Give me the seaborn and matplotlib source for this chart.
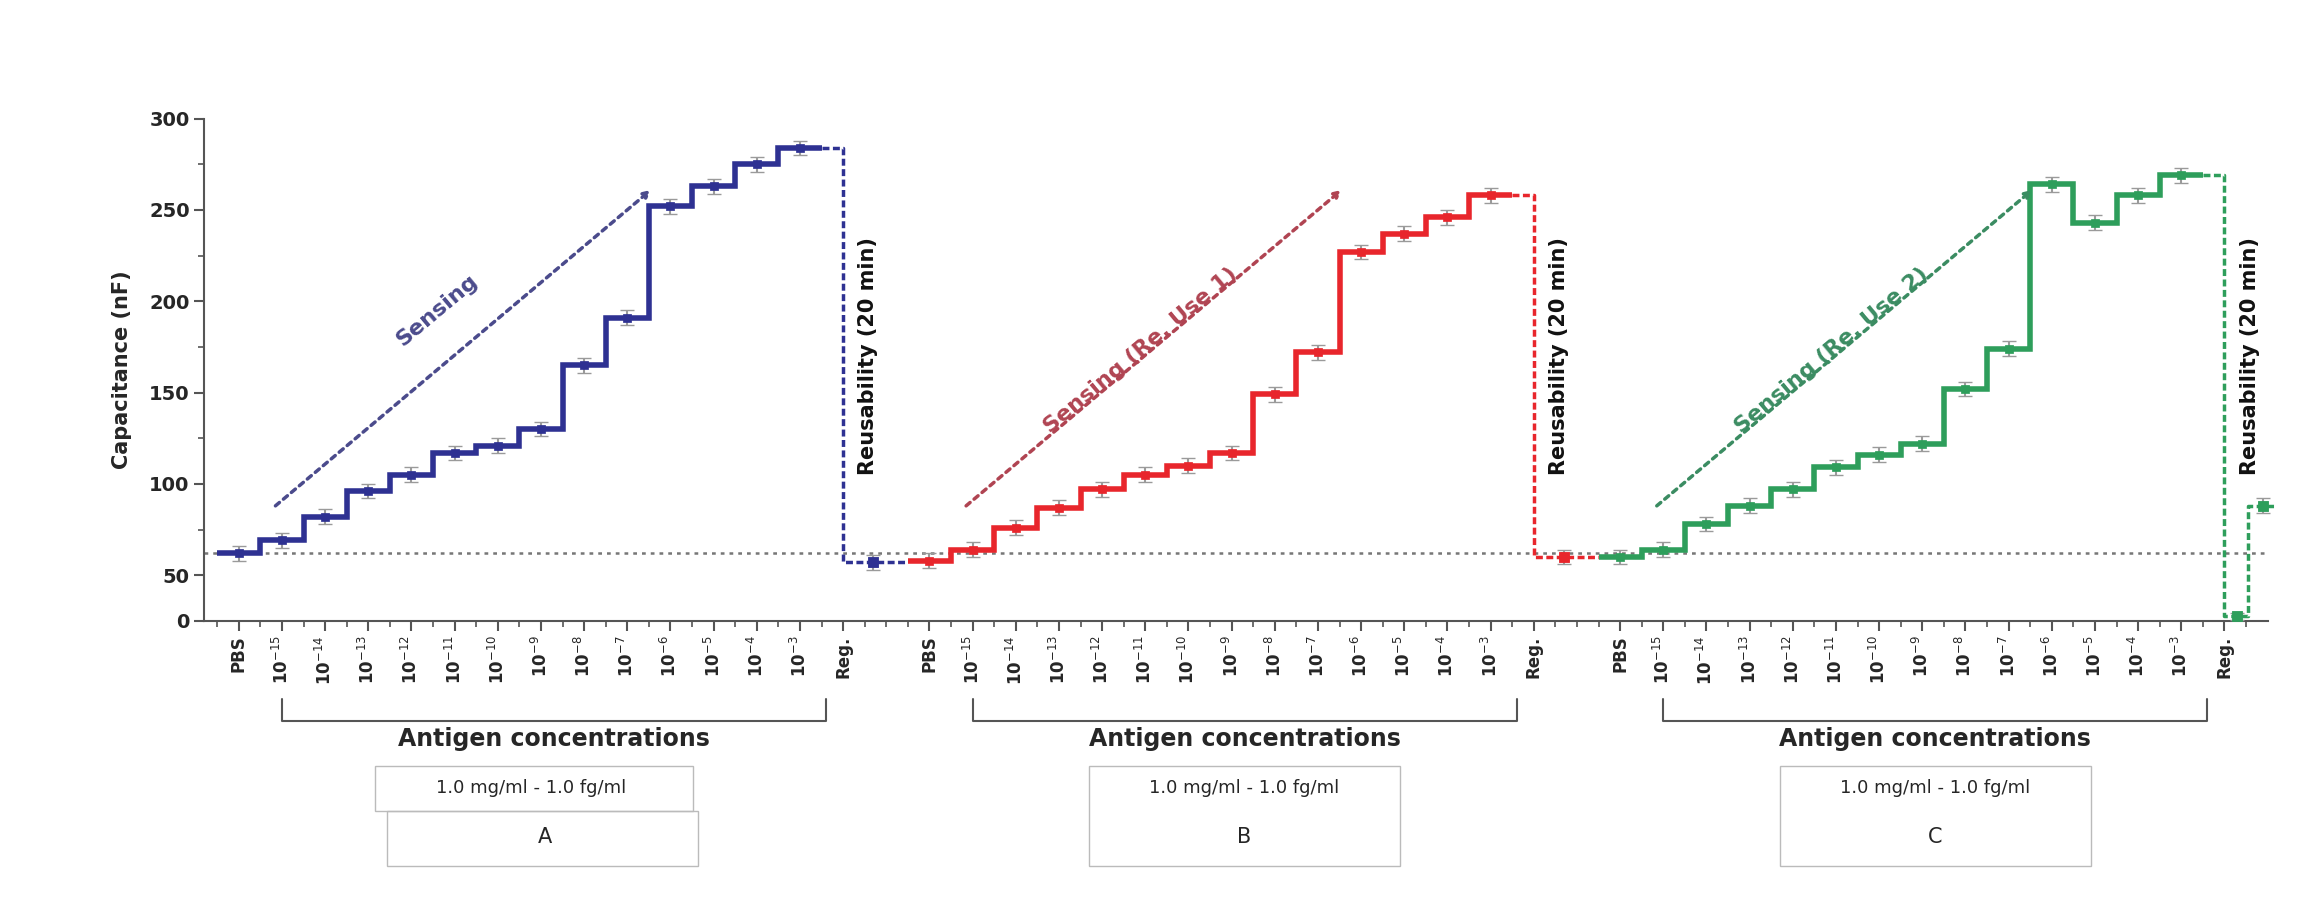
import numpy as np
import matplotlib
matplotlib.use('Agg')
import matplotlib.pyplot as plt
import seaborn as sns
from matplotlib.patches import Rectangle

# tick labels for one sensing run
tick_labels = ['PBS'] + [f'10$^{{-{k}}}$' for k in range(15, 2, -1)] + ['Reg.']

# capacitance (nF) per step: PBS, 1e-15 ... 1e-3
cap_a = [62, 69, 82, 96, 105, 117, 121, 130, 165, 191, 252, 263, 275, 284]
cap_b = [58, 64, 76, 87, 97, 105, 110, 117, 149, 172, 227, 237, 246, 258]
cap_c = [60, 64, 78, 88, 97, 109, 116, 122, 152, 174, 264, 243, 258, 269]
err_a = [4, 4, 4, 4, 4, 4, 4, 4, 4, 4, 4, 4, 4, 4]
err_b = [4, 4, 4, 4, 4, 4, 4, 4, 4, 4, 4, 4, 4, 4]
err_c = [4, 4, 4, 4, 4, 4, 4, 4, 4, 4, 4, 4, 4, 4]
# value after regeneration
reg_a = [57]
reg_b = [60]
reg_c = [5, 88]
baseline = 62

colors = {'A': '#2e3192', 'B': '#e8262c', 'C': '#2e9e5b'}
arrow_colors = {'A': '#4b4b8c', 'B': '#b04452', 'C': '#3b8c62'}
sensing_text = {'A': 'Sensing', 'B': 'Sensing (Re. Use 1)', 'C': 'Sensing (Re. Use 2)'}

sns.set_style('ticks')
plt.rcParams['font.family'] = ['DejaVu Sans']

fig = plt.figure(figsize=(23.21, 9.13), dpi=100)
ax = fig.add_axes([0.088, 0.32, 0.889, 0.55])


def fwd(y):
    y = np.asarray(y, dtype=float)
    return np.where(y < 50, y / 2, y - 25)


def inv(t):
    t = np.asarray(t, dtype=float)
    return np.where(t < 25, t * 2, t + 25)


ax.set_yscale('function', functions=(fwd, inv))

panels = [('A', cap_a, err_a, reg_a, 0), ('B', cap_b, err_b, reg_b, 16), ('C', cap_c, err_c, reg_c, 32)]
major_pos, major_lab = [], []
for name, cap, err, reg, off in panels:
    col = colors[name]
    x = np.arange(len(cap)) + off
    edges = np.append(x - 0.5, x[-1] + 0.5)
    ax.stairs(cap, edges, color=col, lw=4, baseline=None, zorder=3)
    ax.errorbar(x, cap, yerr=err, fmt='none', ecolor='#9a9a9a', elinewidth=1.5, capsize=5, zorder=4)
    sns.scatterplot(x=x, y=cap, marker='s', s=40, color=col, edgecolor=col, ax=ax, zorder=5)
    xreg = off + len(cap)
    # dashed regeneration path
    if len(reg) == 1:
        px = [x[-1] + 0.5, xreg, xreg, xreg + 1.5]
        py = [cap[-1], cap[-1], reg[0], reg[0]]
        pts_x = [xreg + 0.7]
    else:
        px = [x[-1] + 0.5, xreg, xreg, xreg + 0.55, xreg + 0.55, xreg + 1.2]
        py = [cap[-1], cap[-1], reg[0], reg[0], reg[1], reg[1]]
        pts_x = [xreg + 0.3, xreg + 0.9]
    ax.plot(px, py, color=col, lw=2.5, ls=(0, (2, 1)), zorder=3, clip_on=False)
    ax.errorbar(pts_x, reg, yerr=[4] * len(reg), fmt='none', ecolor='#9a9a9a', elinewidth=1.5, capsize=5, zorder=4, clip_on=False)
    sns.scatterplot(x=pts_x, y=reg, marker='s', s=60, color=col, edgecolor=col, ax=ax, zorder=5, clip_on=False)
    major_pos += list(np.arange(len(cap) + 1) + off)
    major_lab += tick_labels

    # sensing arrow + label
    ac = arrow_colors[name]
    ax.annotate('', xy=(off + 9.6, 262), xytext=(off + 0.8, 87),
                arrowprops=dict(arrowstyle='->', color=ac, lw=2.5, ls=(0, (1.5, 1.5))))
    ax.text(off + 4.6 + (0.3 if name != 'A' else 0), 195 - (22 if name != 'A' else 0), sensing_text[name],
            color=ac, rotation=40, fontsize=16, fontweight='bold', ha='center', va='center')
    ax.text(xreg + 0.35, 170, 'Reusability (20 min)', rotation=90, fontsize=15,
            fontweight='bold', ha='left', va='center', color='#111111')

ax.axhline(baseline, color='#777777', lw=1.8, ls=(0, (1.5, 2)), zorder=2)

ax.set_xlim(-0.8, 47)
ax.set_ylim(0, 300)
ax.set_xticks(major_pos)
ax.set_xticklabels(major_lab, rotation=90, fontsize=12, fontweight='bold')
ax.set_xticks(np.arange(-0.5, 47, 0.5), minor=True)
ax.set_yticks([0, 50, 100, 150, 200, 250, 300])
ax.set_yticklabels(['0', '50', '100', '150', '200', '250', '300'], fontsize=14, fontweight='bold')
ax.set_yticks([75, 125, 175, 225, 275], minor=True)
ax.tick_params(axis='both', which='major', length=7, width=1.5, color='#555555')
ax.tick_params(axis='both', which='minor', length=4, width=1.2, color='#555555')
ax.set_ylabel('Capacitance (nF)', fontsize=15, fontweight='bold', labelpad=12)
for s in ['top', 'right']:
    ax.spines[s].set_visible(False)
for s in ['left', 'bottom']:
    ax.spines[s].set_color('#555555')
    ax.spines[s].set_linewidth(1.5)

# brackets and boxes below axis
trans = ax.get_xaxis_transform()
for name, cap, err, reg, off in panels:
    x0, x1 = off + 1, off + 13.6
    ax.plot([x0, x0, x1, x1], [-0.155, -0.2, -0.2, -0.155], color='#555555', lw=1.5,
            transform=trans, clip_on=False)
    xc = (x0 + x1) / 2
    ax.text(xc, -0.212, 'Antigen concentrations', transform=trans, ha='center', va='top',
            fontsize=17, fontweight='bold')
    fx = fig.transFigure.inverted().transform(ax.transData.transform((xc, 100)))[0]
    w = 0.134
    if name == 'A':
        fig.patches.append(Rectangle((fx - 0.072, 0.052), w, 0.06, transform=fig.transFigure,
                                     fill=False, ec='#bbbbbb', lw=1))
        fig.patches.append(Rectangle((fx - 0.077, 0.112), w + 0.003, 0.049, transform=fig.transFigure,
                                     fill=False, ec='#bbbbbb', lw=1))
        fig.text(fx - 0.01, 0.137, '1.0 mg/ml - 1.0 fg/ml', ha='center', va='center', fontsize=13)
        fig.text(fx - 0.004, 0.083, 'A', ha='center', va='center', fontsize=15)
    else:
        fig.patches.append(Rectangle((fx - w / 2, 0.052), w, 0.109, transform=fig.transFigure,
                                     fill=False, ec='#bbbbbb', lw=1))
        fig.text(fx, 0.137, '1.0 mg/ml - 1.0 fg/ml', ha='center', va='center', fontsize=13)
        fig.text(fx, 0.083, name, ha='center', va='center', fontsize=15)

fig.savefig('out.png', dpi=100)
